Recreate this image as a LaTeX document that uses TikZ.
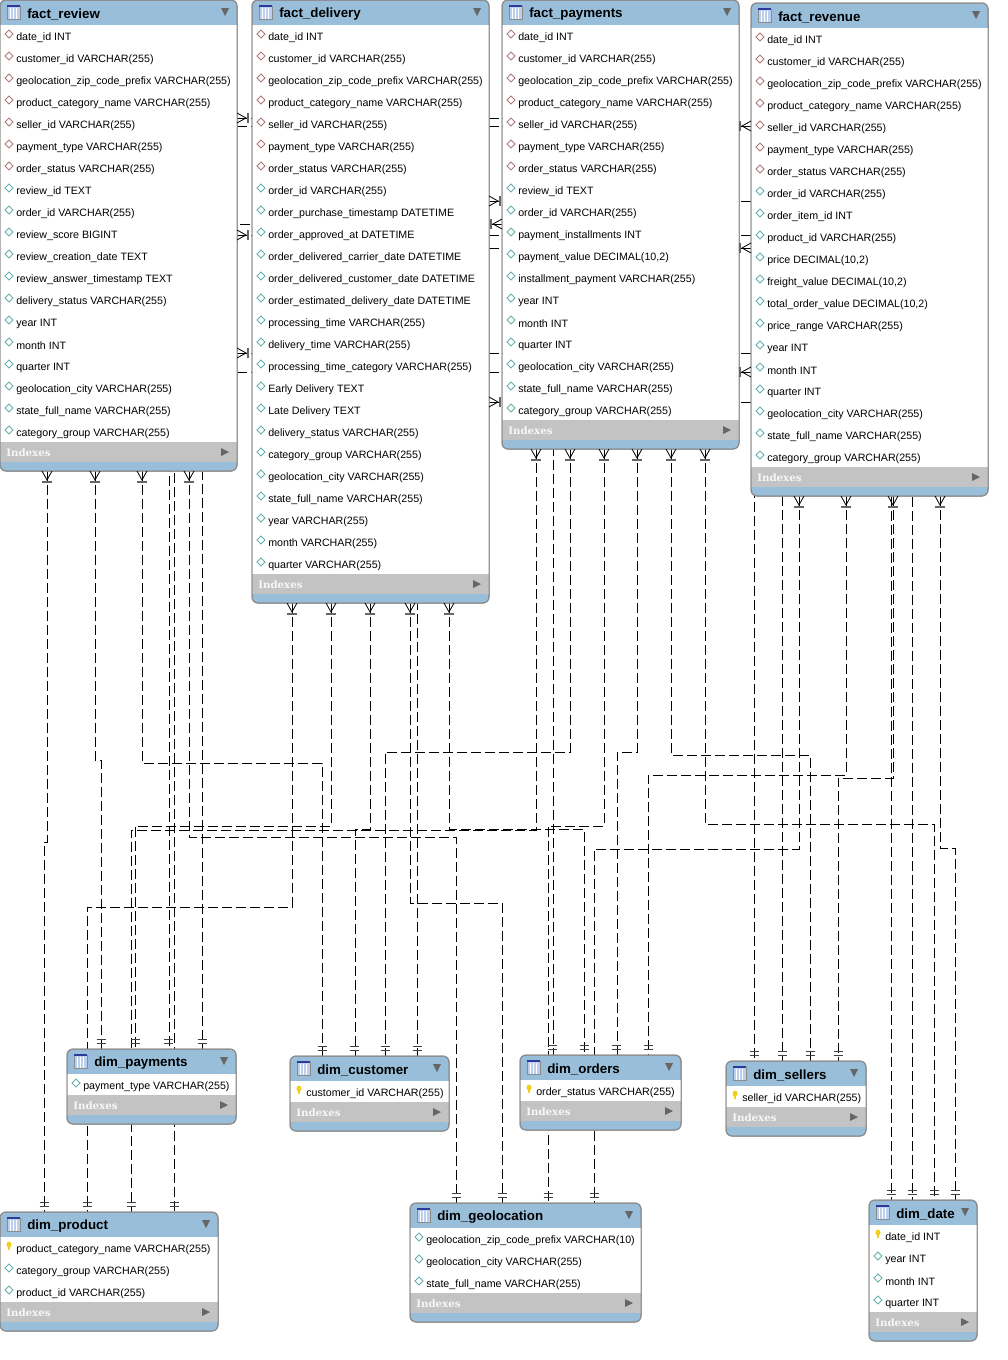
\documentclass[tikz,border=0pt]{standalone}
\usepackage{fontspec}
\setmainfont{Liberation Sans}
\newfontfamily\indexfont{DejaVu Serif}
\usetikzlibrary{backgrounds}
\definecolor{headblue}{HTML}{98BEDA}
\definecolor{indexgray}{HTML}{C3C3C3}
\definecolor{edgegray}{HTML}{8C8C8C}
\definecolor{markgray}{HTML}{666666}
\definecolor{fkbrown}{HTML}{B07878}
\definecolor{colteal}{HTML}{66AEAE}
\definecolor{keyyellow}{HTML}{F2CE1E}
\definecolor{iconfill}{HTML}{BCCFEE}
\definecolor{icontop}{HTML}{2C3A9C}
\tikzset{
  tableframe/.style={draw=edgegray, fill=headblue, line width=0.75pt, rounded corners=4.5pt, inner sep=0pt, outer sep=0pt, anchor=north west},
  titletext/.style={anchor=west, inner sep=0pt, font=\fontsize{10pt}{12pt}\selectfont\bfseries},
  rowtext/.style={anchor=west, inner sep=0pt, font=\fontsize{8pt}{10pt}\selectfont},
  indextext/.style={anchor=west, inner sep=0pt, text=white!97!black, font=\fontsize{7.7pt}{9pt}\selectfont\indexfont\bfseries},
  relline/.style={line width=0.75pt, dash pattern=on 7.5pt off 3pt},
  crow/.pic={
    \draw[line width=0.6pt] (-5,0) -- (0,9) -- (5,0);
    \draw[line width=0.6pt] (0,9) -- (0,11);
    \draw[line width=1.1pt, draw=markgray] (-5,11) -- (5,11);
  },
  onetick/.pic={
    \draw[line width=0.7pt, draw=black!75] (-4.5,-10) -- (4.5,-10);
    \draw[line width=0.7pt, draw=black!75] (-4.5,-6) -- (4.5,-6);
  }
}
% name, x, top, width, title, number of rows, brown rows (-1: first row is a key), rows
\newcommand{\dbtable}[8]{
  \node (#1) [tableframe, minimum width=#4*0.75pt, minimum height={(22*#6+53)*0.75pt}] at (#2,#3) {};
  \fill[white] (#2,#3+24.5) rectangle (#2+#4,{#3+36+22*(#6-1)+10});
  \fill[indexgray] (#2,{#3+36+22*(#6-1)+10}) rectangle (#2+#4,{#3+36+22*(#6-1)+30});
  \draw[edgegray, line width=0.75pt, rounded corners=4.5pt] (#2,#3) rectangle (#2+#4,{#3+22*#6+53});
  \fill[iconfill] (#2+7,#3+6) rectangle (#2+20,#3+19);
  \foreach \cx in {10,13,16} \draw[white, line width=0.4pt] (#2+\cx,#3+8) -- (#2+\cx,#3+19);
  \draw[edgegray, line width=0.5pt] (#2+7,#3+6) rectangle (#2+20,#3+19);
  \draw[icontop, line width=0.9pt] (#2+7,#3+6) -- (#2+20,#3+6);
  \fill[markgray] (#2+#4-16,#3+8) -- (#2+#4-8,#3+8) -- (#2+#4-12,#3+16) -- cycle;
  \node (#1-title) [titletext] at (#2+27,#3+14) {#5};
  \foreach \rowlabel [count=\r] in {#8} {
    \node (#1-\r) [rowtext] at ({#2+16},{#3+16+22*\r}) {\rowlabel};
    \ifnum\r>#7 \colorlet{rowmark}{colteal}\else \colorlet{rowmark}{fkbrown}\fi
    \ifnum\numexpr\r*(#7+2)\relax=1
      \fill[keyyellow] (#2+9,{#3+14+22*\r-3.5}) ellipse (2.5 and 3);
      \fill[keyyellow] (#2+8.2,{#3+14+22*\r-3}) rectangle (#2+9.8,{#3+14+22*\r+2});
    \else
      \draw[rowmark, line width=0.6pt] (#2+5,{#3+12+22*\r}) -- (#2+9,{#3+8+22*\r}) -- (#2+13,{#3+12+22*\r}) -- (#2+9,{#3+16+22*\r}) -- cycle;
    \fi
  }
  \node (#1-indexes) [indextext] at (#2+6,{#3+36+22*(#6-1)+21}) {Indexes};
  \fill[markgray] (#2+#4-16,{#3+36+22*(#6-1)+16}) -- (#2+#4-8,{#3+36+22*(#6-1)+20}) -- (#2+#4-16,{#3+36+22*(#6-1)+24}) -- cycle;
}
\begin{document}
\begin{tikzpicture}[x=0.75pt, y=-0.75pt]
  \useasboundingbox (0,0) rectangle (1007,1360);

  \dbtable{factreview}{0}{0}{237}{fact\_review}{19}{7}{date\_id INT, customer\_id VARCHAR(255), geolocation\_zip\_code\_prefix VARCHAR(255), product\_category\_name VARCHAR(255), seller\_id VARCHAR(255), payment\_type VARCHAR(255), order\_status VARCHAR(255), review\_id TEXT, order\_id VARCHAR(255), review\_score BIGINT, review\_creation\_date TEXT, review\_answer\_timestamp TEXT, delivery\_status VARCHAR(255), year INT, month INT, quarter INT, geolocation\_city VARCHAR(255), state\_full\_name VARCHAR(255), category\_group VARCHAR(255)}
  \dbtable{factdelivery}{252}{0}{237}{fact\_delivery}{25}{7}{date\_id INT, customer\_id VARCHAR(255), geolocation\_zip\_code\_prefix VARCHAR(255), product\_category\_name VARCHAR(255), seller\_id VARCHAR(255), payment\_type VARCHAR(255), order\_status VARCHAR(255), order\_id VARCHAR(255), order\_purchase\_timestamp DATETIME, order\_approved\_at DATETIME, order\_delivered\_carrier\_date DATETIME, order\_delivered\_customer\_date DATETIME, order\_estimated\_delivery\_date DATETIME, processing\_time VARCHAR(255), delivery\_time VARCHAR(255), processing\_time\_category VARCHAR(255), Early Delivery TEXT, Late Delivery TEXT, delivery\_status VARCHAR(255), category\_group VARCHAR(255), geolocation\_city VARCHAR(255), state\_full\_name VARCHAR(255), year VARCHAR(255), month VARCHAR(255), quarter VARCHAR(255)}
  \dbtable{factpayments}{502}{0}{237}{fact\_payments}{18}{7}{date\_id INT, customer\_id VARCHAR(255), geolocation\_zip\_code\_prefix VARCHAR(255), product\_category\_name VARCHAR(255), seller\_id VARCHAR(255), payment\_type VARCHAR(255), order\_status VARCHAR(255), review\_id TEXT, order\_id VARCHAR(255), payment\_installments INT, {payment\_value DECIMAL(10,2)}, installment\_payment VARCHAR(255), year INT, month INT, quarter INT, geolocation\_city VARCHAR(255), state\_full\_name VARCHAR(255), category\_group VARCHAR(255)}
  \dbtable{factrevenue}{751}{3}{237}{fact\_revenue}{20}{7}{date\_id INT, customer\_id VARCHAR(255), geolocation\_zip\_code\_prefix VARCHAR(255), product\_category\_name VARCHAR(255), seller\_id VARCHAR(255), payment\_type VARCHAR(255), order\_status VARCHAR(255), order\_id VARCHAR(255), order\_item\_id INT, product\_id VARCHAR(255), {price DECIMAL(10,2)}, {freight\_value DECIMAL(10,2)}, {total\_order\_value DECIMAL(10,2)}, price\_range VARCHAR(255), year INT, month INT, quarter INT, geolocation\_city VARCHAR(255), state\_full\_name VARCHAR(255), category\_group VARCHAR(255)}
  \dbtable{dimpayments}{67}{1049}{169}{dim\_payments}{1}{0}{payment\_type VARCHAR(255)}
  \dbtable{dimcustomer}{290}{1056}{159}{dim\_customer}{1}{-1}{customer\_id VARCHAR(255)}
  \dbtable{dimorders}{520}{1055}{161}{dim\_orders}{1}{-1}{order\_status VARCHAR(255)}
  \dbtable{dimsellers}{726}{1061}{140}{dim\_sellers}{1}{-1}{seller\_id VARCHAR(255)}
  \dbtable{dimproduct}{0}{1212}{218}{dim\_product}{3}{-1}{product\_category\_name VARCHAR(255), category\_group VARCHAR(255), product\_id VARCHAR(255)}
  \dbtable{dimgeolocation}{410}{1203}{231}{dim\_geolocation}{3}{0}{geolocation\_zip\_code\_prefix VARCHAR(10), geolocation\_city VARCHAR(255), state\_full\_name VARCHAR(255)}
  \dbtable{dimdate}{869}{1200}{108}{dim\_date}{4}{-1}{date\_id INT, year INT, month INT, quarter INT}

  \begin{scope}[on background layer]
    \draw[relline] (factreview.south -| 47,0) |- (44,842) -- (dimproduct.north -| 44,0);
    \draw[relline] (factreview.south -| 95,0) |- (101,760) -- (dimpayments.north -| 101,0);
    \draw[relline] (factreview.south -| 142,0) |- (322,763) -- (dimcustomer.north -| 322,0);
    \draw[relline] (factreview.south -| 189,0) |- (456,837) -- (dimgeolocation.north -| 456,0);
    \draw[relline] (factreview.east |- 0,118) -| (dimorders.north -| 553,0);
    \draw[relline] (factreview.east |- 0,235) -| (dimsellers.north -| 754,0);
    \draw[relline] (factreview.east |- 0,353) -| (dimdate.north -| 891,0);

    \draw[relline] (factdelivery.south -| 292,0) |- (87,907) -- (dimproduct.north -| 87,0);
    \draw[relline] (factdelivery.south -| 331,0) |- (135,826) -- (dimpayments.north -| 135,0);
    \draw[relline] (factdelivery.south -| 370,0) |- (355,829) -- (dimcustomer.north -| 355,0);
    \draw[relline] (factdelivery.south -| 410,0) |- (502,903) -- (dimgeolocation.north -| 502,0);
    \draw[relline] (factdelivery.south -| 449,0) |- (584,829) -- (dimorders.north -| 584,0);
    \draw[relline] (factdelivery.east |- 0,201) -| (dimsellers.north -| 782,0);
    \draw[relline] (factdelivery.east |- 0,402) -| (dimdate.north -| 912,0);

    \draw[relline] (factpayments.south -| 536,0) |- (131,830) -- (dimproduct.north -| 131,0);
    \draw[relline] (factpayments.south -| 570,0) |- (385,752) -- (dimcustomer.north -| 385,0);
    \draw[relline] (factpayments.south -| 604,0) |- (548,826) -- (dimgeolocation.north -| 548,0);
    \draw[relline] (factpayments.south -| 637,0) |- (617,752) -- (dimorders.north -| 617,0);
    \draw[relline] (factpayments.south -| 671,0) |- (810,755) -- (dimsellers.north -| 810,0);
    \draw[relline] (factpayments.south -| 705,0) |- (934,824) -- (dimdate.north -| 934,0);
    \draw[relline] (factpayments.west |- 0,224) -| (dimpayments.north -| 202,0);

    \draw[relline] (factrevenue.south -| 799,0) |- (594,849) -- (dimgeolocation.north -| 594,0);
    \draw[relline] (factrevenue.south -| 846,0) |- (648,775) -- (dimorders.north -| 648,0);
    \draw[relline] (factrevenue.south -| 893,0) |- (838,778) -- (dimsellers.north -| 838,0);
    \draw[relline] (factrevenue.south -| 940,0) |- (955,848) -- (dimdate.north -| 955,0);
    \draw[relline] (factrevenue.west |- 0,126) -| (dimproduct.north -| 174,0);
    \draw[relline] (factrevenue.west |- 0,248) -| (dimcustomer.north -| 417,0);
    \draw[relline] (factrevenue.west |- 0,372) -| (dimpayments.north -| 169,0);
  \end{scope}

  \foreach \cx in {47,95,142,189} \pic at (factreview.south -| \cx,0) {crow};
  \foreach \cx in {292,331,370,410,449} \pic at (factdelivery.south -| \cx,0) {crow};
  \foreach \cx in {536,570,604,637,671,705} \pic at (factpayments.south -| \cx,0) {crow};
  \foreach \cx in {799,846,893,940} \pic at (factrevenue.south -| \cx,0) {crow};
  \foreach \cy in {118,235,353} \pic[rotate=90] at (factreview.east |- 0,\cy) {crow};
  \foreach \cy in {201,402} \pic[rotate=90] at (factdelivery.east |- 0,\cy) {crow};
  \pic[rotate=-90] at (factpayments.west |- 0,224) {crow};
  \foreach \cy in {126,248,372} \pic[rotate=-90] at (factrevenue.west |- 0,\cy) {crow};

  \foreach \cx in {44,87,131,174} \pic at (dimproduct.north -| \cx,0) {onetick};
  \foreach \cx in {101,135,168,202} \pic at (dimpayments.north -| \cx,0) {onetick};
  \foreach \cx in {322,354,385,417} \pic at (dimcustomer.north -| \cx,0) {onetick};
  \foreach \cx in {552,584,616,648} \pic at (dimorders.north -| \cx,0) {onetick};
  \foreach \cx in {754,782,810,838} \pic at (dimsellers.north -| \cx,0) {onetick};
  \foreach \cx in {456,502,548,594} \pic at (dimgeolocation.north -| \cx,0) {onetick};
  \foreach \cx in {891,912,934,955} \pic at (dimdate.north -| \cx,0) {onetick};
\end{tikzpicture}
\end{document}
